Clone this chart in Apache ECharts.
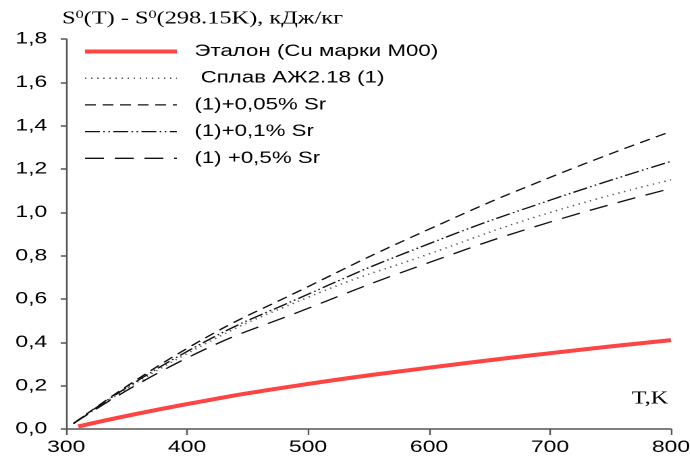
<!DOCTYPE html>
<html>
<head>
<meta charset="utf-8">
<script src="https://cdn.jsdelivr.net/npm/echarts@6/dist/echarts.min.js"></script>
<style>
  html, body { margin: 0; padding: 0; background: #fff; overflow: hidden; }
  /* the chart is laid out narrow and widened, giving the wide lettering of the figure */
  #chart { width: 511px; height: 470px; transform: scaleX(1.35); transform-origin: 0 0; }
</style>
</head>
<body>
<div id="chart"></div>
<script>
// Temperature points, K
const temps = [306, 400, 500, 600, 700, 800];
const tempsRef = [310, 400, 500, 600, 700, 800];

// S0(T) - S0(298.15K), kJ/kg
const etalon   = [0.012, 0.115, 0.208, 0.283, 0.350, 0.410];
const alloy    = [0.025, 0.348, 0.608, 0.808, 0.999, 1.150];
const sr005    = [0.025, 0.372, 0.657, 0.922, 1.161, 1.373];
const sr01     = [0.025, 0.358, 0.622, 0.855, 1.056, 1.235];
const sr05     = [0.025, 0.328, 0.557, 0.768, 0.955, 1.110];

const seriesNames = [
  'Эталон (Cu марки М00)',
  ' Сплав АЖ2.18 (1)',
  '(1)+0,05% Sr',
  '(1)+0,1% Sr',
  '(1) +0,5% Sr'
];

const xTicks = { min: 300, max: 800, step: 100 };
const yTicks = { min: 0, max: 1.8, step: 0.2 };

const pairs = (xs, ys) => xs.map((x, i) => [x, ys[i]]);

const styles = [
  { color: '#ff4444', width: 4, type: 'solid' },
  { color: '#555', width: 1.5, type: [1, 3.5] },
  { color: '#111', width: 1.3, type: [8, 5] },
  { color: '#111', width: 1.3, type: [11, 2.5, 1.2, 2.5, 1.2, 2.5] },
  { color: '#111', width: 1.3, type: [14, 8] }
];

const chart = echarts.init(document.getElementById('chart'), null, { renderer: 'canvas', devicePixelRatio: 2 });

const baseSeries = (name, data, lineStyle) => ({
  name, type: 'line', data, smooth: true, symbol: 'none',
  lineStyle, emphasis: { disabled: true }, animation: false
});

chart.setOption({
  backgroundColor: '#fff',
  animation: false,
  title: {
    text: 'S{sup|0}(T) - S{sup|0}(298.15K), кДж/кг',
    left: 41, top: 4,
    textStyle: {
      fontFamily: 'Liberation Serif', fontSize: 18, fontWeight: 'normal', color: '#000',
      rich: {
        sup: { fontFamily: 'Liberation Serif', fontSize: 12, verticalAlign: 'top', padding: [0, 0, 8, 0], color: '#000' }
      }
    }
  },
  legend: {
    orient: 'vertical',
    left: 56, top: 38,
    itemWidth: 68, itemHeight: 14, itemGap: 9.7,
    itemStyle: { opacity: 0 },
    textStyle: { fontFamily: 'Liberation Sans', fontSize: 16.5, color: '#000', padding: [0, 0, 0, 8] },
    data: seriesNames.map((name, i) => ({ name, lineStyle: { width: styles[i].width, type: styles[i].type, color: styles[i].color } }))
  },
  grid: { left: 49, right: 14, top: 39, bottom: 41, outerBoundsMode: 'none' },
  xAxis: {
    type: 'value', min: xTicks.min, max: xTicks.max, interval: xTicks.step,
    axisLine: { lineStyle: { color: '#555', width: 1.5 } },
    axisTick: { length: 6, lineStyle: { color: '#555', width: 1.2 } },
    axisLabel: { fontFamily: 'Liberation Sans', fontSize: 17, color: '#000', margin: 10 },
    splitLine: { show: false }
  },
  yAxis: {
    type: 'value', min: yTicks.min, max: yTicks.max, interval: yTicks.step,
    axisLine: { show: true, lineStyle: { color: '#555', width: 1.2 } },
    axisTick: { show: true, length: 4, lineStyle: { color: '#555', width: 1.5 } },
    axisLabel: {
      fontFamily: 'Liberation Sans', fontSize: 17, color: '#000', margin: 14,
      formatter: v => v.toFixed(1).replace('.', ',')
    },
    splitLine: { show: false }
  },
  graphic: [{
    type: 'text', right: 16, top: 390,
    style: { text: 'T,K', font: '18px "Liberation Serif"', fill: '#000' }
  }],
  series: seriesNames.map((name, i) =>
    baseSeries(name, pairs(i === 0 ? tempsRef : temps, [etalon, alloy, sr005, sr01, sr05][i]), styles[i]))
});
</script>
</body>
</html>
